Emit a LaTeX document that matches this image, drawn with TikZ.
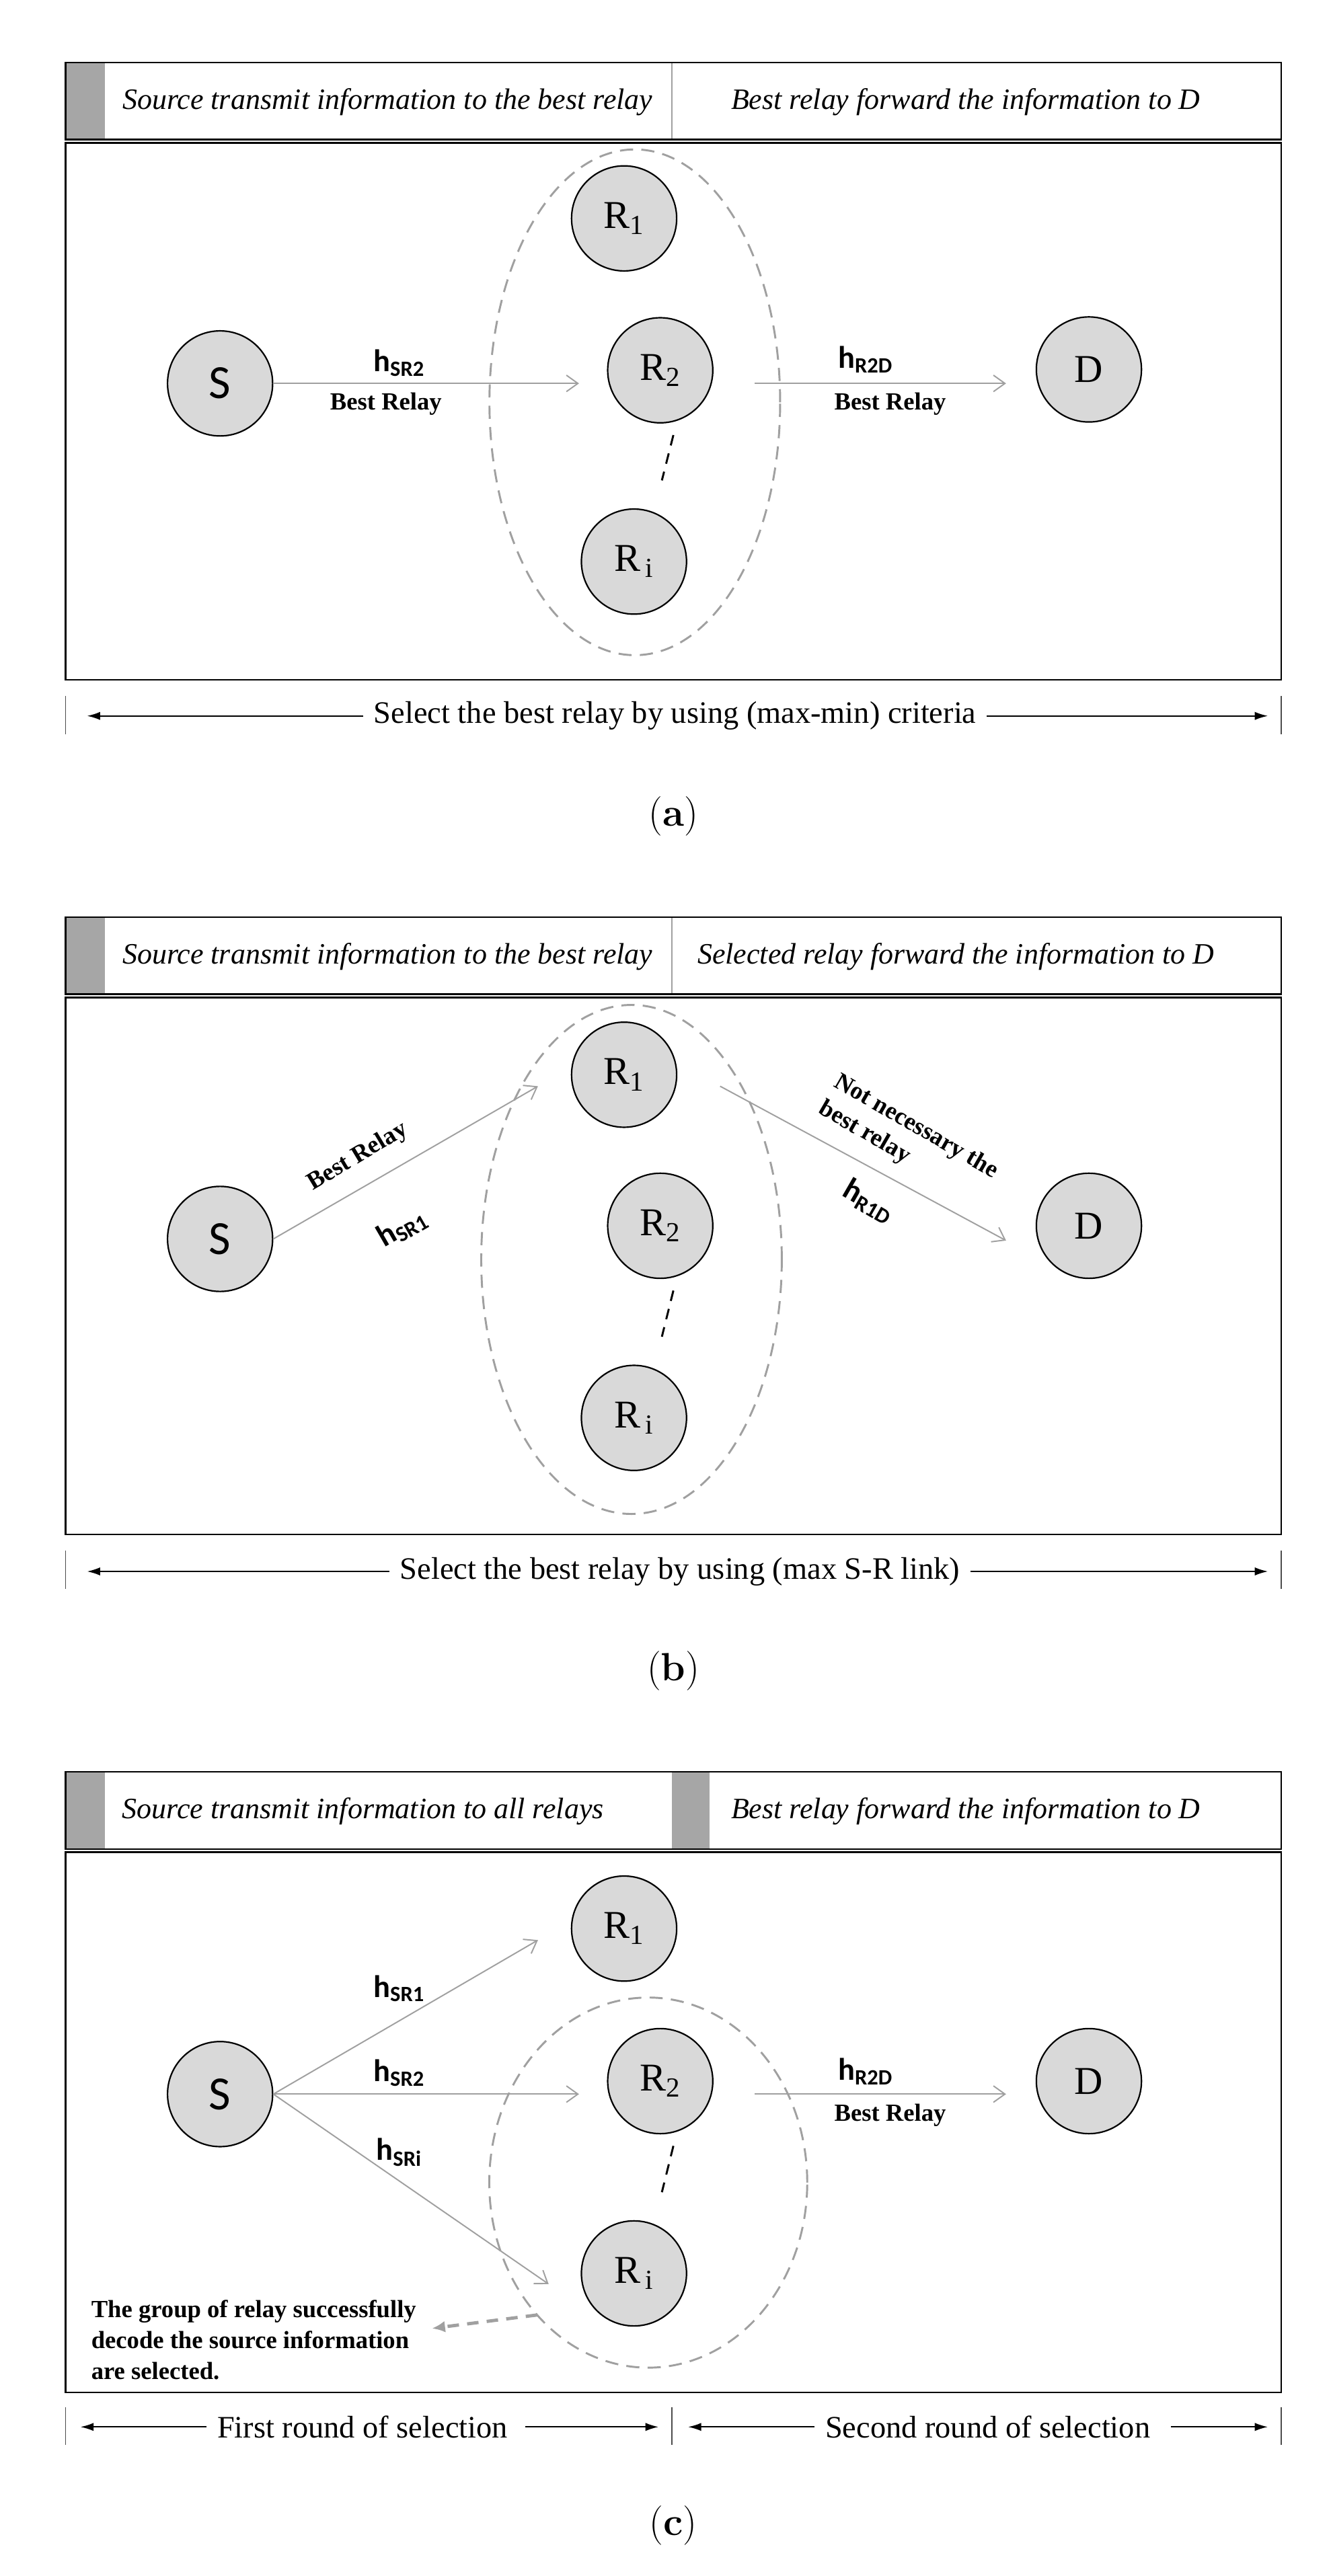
\documentclass[tikz,border=0pt]{standalone}
\usepackage{fontspec}
\newfontfamily\tnr{Liberation Serif}
\newfontfamily\cfont{Carlito}
\usepackage{tikz}
\usetikzlibrary{shapes.geometric}
\usetikzlibrary{arrows.meta,calc,positioning}
\usepackage{xcolor}
\definecolor{nodegray}{HTML}{D9D9D9}
\definecolor{stripgray}{HTML}{A6A6A6}
\definecolor{linkgray}{HTML}{A0A0A0}
\tikzset{
  relay/.style={circle,draw,line width=0.9pt,fill=nodegray,minimum size=64pt,inner sep=0pt,font=\tnr\fontsize{24}{24}\selectfont},
  src/.style={relay,font=\cfont\fontsize{29}{29}\selectfont},
  group/.style={ellipse,draw=linkgray,line width=1.2pt,dash pattern=on 8pt off 5pt,inner sep=0pt,outer sep=0pt},
  link/.style={draw=linkgray,line width=0.8pt,-{Straight Barb[length=7pt,width=10pt]}},
  pointer/.style={draw=linkgray,line width=2pt,dash pattern=on 7pt off 5pt,-{Latex[length=8pt,width=7pt]}},
  dots/.style={line width=1.2pt,dash pattern=on 6.5pt off 5pt},
  dim/.style={line width=0.8pt,shorten <=3pt,-{Latex[length=8pt,width=5pt]}},
  frame/.style={line width=1pt},
  bar/.style={line width=0.6pt,black!70},
  head/.style={font=\tnr\itshape\fontsize{18}{18}\selectfont},
  span/.style={font=\tnr\fontsize{19}{19}\selectfont},
  chan/.style={font=\cfont\bfseries\fontsize{19}{19}\selectfont},
  note/.style={font=\tnr\bfseries\fontsize{15}{18.8}\selectfont},
  tag/.style={font=\fontsize{24}{24}\selectfont}
}
\begin{document}
\begin{tikzpicture}[x=1pt,y=-1pt]
\useasboundingbox (0,0) rectangle (810,1568.8);

\begin{scope}
\fill[stripgray] (40,38) rectangle (64,85);
\draw[linkgray,line width=0.6pt] (409,38) -- (409,85);
\draw[frame] (40,38) rectangle (780,85);
\node[head] (aH1) at (236,62) {Source transmit information to the best relay};
\node[head] (aH2) at (588,62) {Best relay forward the information to D};
\draw[frame] (40,87) rectangle (780,414);
\node[group,minimum width=177pt,minimum height=308pt] (aGrp) at (386.5,245) {};
\node[src] (aS) at (134,233.5) {S};
\node[relay] (aR1) at (380,133) {R\textsubscript{1}};
\node[relay] (aR2) at (402,225.5) {R\textsubscript{2}};
\node[relay] (aRi) at (386,342) {R\textsubscript{\,i}};
\node[relay] (aD) at (663,225) {D};
\draw[link,shorten >=17pt] (aS.east) -- (aS.east -| aR2.west);
\draw[link,shorten <=25pt,shorten >=18pt] (aR2.east |- aS.east) -- (aD.west |- aS.east);
\draw[dots] ($(aR2.south)+(8,7)$) -- ($(aRi.north)+(17,-17)$);
\node[chan] (aHsr) at (243,221) {h\textsubscript{SR2}};
\node[note] (aBsr) at (235,246) {Best Relay};
\node[chan] (aHrd) at (527,219) {h\textsubscript{R2D}};
\node[note] (aBrd) at (542,246) {Best Relay};
\draw[bar] (40,424) -- (40,447);
\draw[bar] (780,424) -- (780,447);
\node[span] (aSel) at (411,436) {Select the best relay by using (max-min) criteria};
\coordinate (aA1) at (53,436);
\coordinate (aA2) at (772,436);
\draw[dim] (aSel.west) -- (aA1);
\draw[dim] (aSel.east) -- (aA2);
\node[tag] (aCap) at (410,497) {(\textbf{a})};
\end{scope}

\begin{scope}[shift={(0,520.5)}]
\fill[stripgray] (40,38) rectangle (64,85);
\draw[linkgray,line width=0.6pt] (409,38) -- (409,85);
\draw[frame] (40,38) rectangle (780,85);
\node[head] (bH1) at (236,62) {Source transmit information to the best relay};
\node[head] (bH2) at (582,62) {Selected relay forward the information to D};
\draw[frame] (40,87) rectangle (780,414);
\node[group,minimum width=183pt,minimum height=310pt] (bGrp) at (384.5,246.5) {};
\node[src] (bS) at (134,234) {S};
\node[relay] (bR1) at (380,134) {R\textsubscript{1}};
\node[relay] (bR2) at (402,226) {R\textsubscript{2}};
\node[relay] (bRi) at (386,343) {R\textsubscript{\,i}};
\node[relay] (bD) at (663,226) {D};
\draw[link] (bS.east) -- ($(bR1.west)+(-20,7)$);
\draw[link] ($(bR1.east)+(26,7)$) -- ($(bD.west)+(-18,9)$);
\draw[dots] ($(bR2.south)+(8,7)$) -- ($(bRi.north)+(17,-17)$);
\node[note,rotate=31] (bBsr) at (218,184) {Best Relay};
\node[chan,rotate=30] (bHsr) at (245,227) {h\textsubscript{SR1}};
\node[note,rotate=-30,align=left] (bNot) at (553,174) {Not necessary the\\best relay};
\node[chan,rotate=-30] (bHrd) at (529,211) {h\textsubscript{R1D}};
\draw[bar] (40,424) -- (40,447);
\draw[bar] (780,424) -- (780,447);
\node[span] (bSel) at (414,436.5) {Select the best relay by using (max S-R link)};
\coordinate (bA1) at (53,436.5);
\coordinate (bA2) at (772,436.5);
\draw[dim] (bSel.west) -- (bA1);
\draw[dim] (bSel.east) -- (bA2);
\node[tag] (bCap) at (410,497) {(\textbf{b})};
\end{scope}

\begin{scope}[shift={(0,1041)}]
\fill[stripgray] (40,38) rectangle (64,85);
\fill[stripgray] (409,38) rectangle (432,85);
\draw[frame] (40,38) rectangle (780,85);
\node[head] (cH1) at (221,62) {Source transmit information to all relays};
\node[head] (cH2) at (588,62) {Best relay forward the information to D};
\draw[frame] (40,87) rectangle (780,416);
\node[group,minimum width=193.6pt,minimum height=225.4pt] (cGrp) at (394.7,288.2) {};
\node[src] (cS) at (134,234.3) {S};
\node[relay] (cR1) at (380,133.5) {R\textsubscript{1}};
\node[relay] (cR2) at (402,226.4) {R\textsubscript{2}};
\node[relay] (cRi) at (386,343.5) {R\textsubscript{\,i}};
\node[relay] (cD) at (663,226.4) {D};
\draw[link] (cS.east) -- ($(cR1.west)+(-20,7)$);
\draw[link,shorten >=17pt] (cS.east) -- (cS.east -| cR2.west);
\draw[link] (cS.east) -- ($(cRi.west)+(-19.5,6.5)$);
\draw[link,shorten <=25pt,shorten >=18pt] (cR2.east |- cS.east) -- (cD.west |- cS.east);
\draw[dots] ($(cR2.south)+(8,7)$) -- ($(cRi.north)+(17,-17)$);
\node[chan] (cHs1) at (243,170) {h\textsubscript{SR1}};
\node[chan] (cHs2) at (243,221.4) {h\textsubscript{SR2}};
\node[chan] (cHsi) at (243,269.7) {h\textsubscript{SRi}};
\node[chan] (cHrd) at (527,220.4) {h\textsubscript{R2D}};
\node[note] (cBrd) at (542,247.2) {Best Relay};
\node[note,align=left] (cNote) at (154.5,384) {The group of relay successfully\\decode the source information\\are selected.};
\coordinate (cTip) at (263,377);
\draw[pointer] (cGrp.230) -- (cTip);
\draw[bar] (40,425) -- (40,448);
\draw[bar] (409,425) -- (409,448);
\draw[bar] (780,425) -- (780,448);
\node[span] (cFst) at (220.7,437) {First round of selection};
\node[span] (cSnd) at (601.4,437) {Second round of selection};
\coordinate (cA1) at (49,437);
\coordinate (cA2) at (401,437);
\coordinate (cA3) at (419,437);
\coordinate (cA4) at (772,437);
\draw[dim] (cFst.west) -- (cA1);
\draw[dim] ([xshift=4pt]cFst.east) -- (cA2);
\draw[dim] (cSnd.west) -- (cA3);
\draw[dim] ([xshift=6pt]cSnd.east) -- (cA4);
\node[tag] (cCap) at (410,497) {(\textbf{c})};
\end{scope}
\end{tikzpicture}
\end{document}
